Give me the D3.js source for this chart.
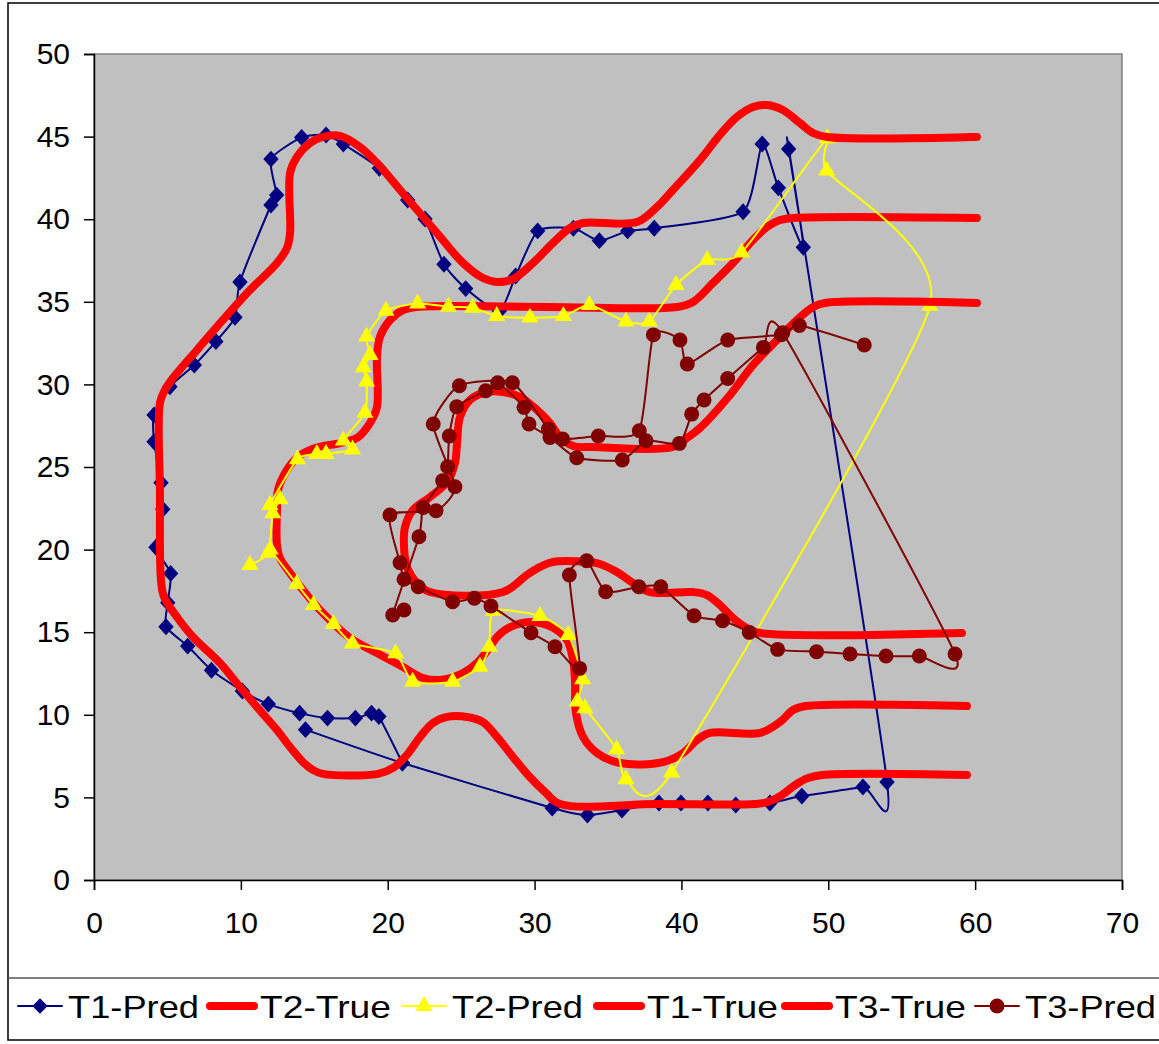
<!DOCTYPE html>
<html>
<head>
<meta charset="utf-8">
<script src="https://cdn.jsdelivr.net/npm/d3@7"></script>
<style>
  body { margin: 0; background: #fff; }
  svg { display: block; font-family: Arial, "Liberation Sans", sans-serif; }
</style>
</head>
<body>
<svg id="chart" width="1159" height="1044"></svg>
<script>
// series data, [x, y]
var t1Pred = [[14.4,9.1],[21.0,7.08],[31.2,4.36],[33.6,3.93],[35.95,4.24],[38.47,4.66],[39.97,4.66],[41.8,4.66],[43.7,4.54],[46.03,4.66],[48.2,5.08],[52.36,5.63],[54.0,5.93],[47.3,44.25],[48.3,38.3],[46.6,41.9],[45.5,44.55],[44.2,40.45],[38.15,39.45],[36.34,39.29],[34.41,38.7],[32.64,39.45],[30.21,39.29],[28.71,36.56],[27.6,34.44],[25.31,35.8],[23.83,37.27],[22.54,40.01],[21.36,41.16],[19.43,43.08],[16.98,44.55],[15.8,45.1],[14.14,44.95],[12.05,43.64],[12.44,41.46],[12.05,40.86],[9.94,36.2],[9.6,34.06],[8.3,32.6],[6.83,31.17],[5.17,29.86],[4.09,28.15],[4.09,26.53],[4.56,24.05],[4.68,22.44],[4.22,20.14],[5.22,18.56],[5.02,16.79],[4.9,15.33],[6.38,14.16],[8.0,12.7],[10.1,11.44],[11.87,10.65],[14.0,10.1],[15.9,9.8],[17.8,9.8],[18.9,10.1],[19.4,9.9],[21.0,7.08]];

var t2True = [[59.44,10.53],[48.48,10.53],[47.6,10.29],[46.71,9.56],[45.35,8.9],[41.94,8.9],[41.06,8.47],[40.11,7.69],[38.74,7.14],[35.82,7.08],[34.25,7.69],[33.3,8.66],[32.82,10.11],[32.75,12.11],[32.62,13.32],[32.21,14.53],[31.19,15.31],[29.69,15.62],[28.33,15.31],[27.44,14.71],[26.96,14.1],[26.08,13.14],[25.13,12.53],[23.56,12.11],[22.4,12.23],[21.04,12.89],[19.27,13.74],[17.43,14.65],[15.39,16.34],[14.23,17.55],[13.35,18.58],[12.66,19.49],[12.46,20.28],[12.46,22.4],[12.53,23.61],[13.14,24.82],[13.89,25.61],[15.05,26.15],[16.75,26.45],[17.91,26.76],[18.79,27.66],[19.27,28.63],[19.27,31.66],[19.47,32.87],[20.16,33.9],[21.04,34.5],[21.99,34.69],[30.8,34.69],[39.7,34.69],[40.79,34.99],[42.15,36.14],[43.51,37.35],[44.87,38.74],[45.82,39.53],[46.71,39.95],[47.6,40.07],[60.12,40.07]];

var t2Pred = [[10.62,19.07],[11.87,19.81],[12.17,22.19],[12.67,23.04],[11.98,22.7],[13.85,25.47],[15.17,25.79],[15.8,25.79],[17.6,26.06],[16.98,26.6],[18.45,28.28],[18.56,30.17],[18.34,31.03],[18.8,31.78],[18.56,32.89],[19.88,34.46],[22.04,34.9],[24.13,34.7],[25.78,34.64],[27.42,34.14],[29.69,34.04],[31.96,34.14],[33.73,34.8],[36.22,33.8],[37.81,33.8],[39.63,36.02],[41.76,37.53],[44.1,37.98],[49.93,44.9],[49.89,42.94],[56.92,34.75],[39.33,6.5],[36.22,6.1],[35.59,7.91],[33.43,10.39],[32.9,10.8],[33.27,12.15],[32.3,14.83],[30.37,15.98],[27.2,16.3],[26.92,14.12],[26.28,12.91],[24.42,12.0],[21.7,12.0],[20.54,13.72],[17.6,14.32],[16.3,15.5],[14.94,16.65],[13.8,17.92],[12.0,20.0]];

var t1True = [[59.44,6.36],[49.57,6.36],[48.62,6.17],[47.73,5.75],[46.85,5.15],[45.89,4.72],[45.01,4.6],[38.4,4.6],[31.73,4.6],[30.71,5.33],[29.55,6.36],[28.53,7.45],[27.44,8.66],[26.49,9.56],[25.4,9.87],[24.04,9.87],[23.08,9.5],[22.2,8.66],[21.31,7.57],[20.36,6.78],[19.34,6.42],[15.59,6.42],[14.91,6.66],[14.23,7.14],[13.35,8.05],[12.46,9.08],[11.1,10.47],[9.94,11.68],[8.58,13.14],[6.74,14.71],[5.65,15.92],[4.77,17.13],[4.56,18.16],[4.49,23.5],[4.49,28.87],[4.83,29.66],[5.38,30.39],[7.01,32.08],[8.78,33.9],[10.62,35.71],[12.46,37.35],[13.14,38.26],[13.35,39.16],[13.35,42.8],[13.82,43.77],[14.71,44.61],[15.59,44.98],[16.75,45.04],[18.11,44.37],[19.27,43.4],[21.31,41.28],[23.36,39.16],[25.13,37.35],[26.49,36.44],[27.44,36.2],[28.53,36.38],[29.89,37.35],[31.25,38.56],[32.41,39.47],[33.3,39.77],[36.97,39.83],[38.33,40.74],[39.42,41.77],[41.26,43.58],[42.62,45.1],[43.78,46.19],[44.87,46.79],[45.82,46.91],[46.91,46.61],[48.07,45.82],[48.96,45.22],[49.91,44.98],[60.12,44.98]];

var t3True = [[59.1,14.95],[45.35,14.95],[44.46,15.25],[43.51,15.86],[42.62,16.65],[41.74,17.25],[40.79,17.43],[37.86,17.43],[36.7,17.98],[35.61,18.64],[34.45,19.13],[33.57,19.25],[31.25,19.25],[30.37,18.95],[29.48,18.46],[27.85,17.43],[22.88,17.43],[21.99,17.98],[21.31,18.95],[21.11,20.16],[21.18,21.37],[21.72,22.4],[22.88,23.18],[24.04,24.09],[24.58,25.24],[24.72,26.45],[24.92,28.03],[25.6,29.06],[26.76,29.54],[27.85,29.54],[29.01,29.24],[30.17,28.45],[31.05,27.66],[31.73,26.82],[32.62,26.27],[33.98,26.21],[39.42,26.21],[40.38,26.76],[41.26,27.36],[43.31,29.36],[44.87,31.17],[46.51,32.69],[47.87,33.9],[48.96,34.69],[49.77,34.93],[60.12,34.93]];

var t3Pred = [[21.11,16.34],[20.34,16.04],[22.13,20.78],[22.42,22.55],[23.74,24.17],[24.08,25.02],[24.19,26.88],[24.7,28.65],[26.67,29.62],[27.49,30.1],[29.28,28.61],[29.62,27.6],[31.05,26.79],[32.87,25.56],[35.97,25.42],[37.59,26.59],[39.86,26.43],[40.7,28.2],[41.54,29.06],[43.15,30.36],[45.58,32.24],[46.9,33.13],[58.63,13.68],[56.2,13.56],[53.93,13.56],[51.48,13.68],[49.2,13.82],[46.55,13.96],[44.62,14.99],[42.8,15.69],[40.86,16.0],[38.59,17.75],[37.1,17.75],[34.84,17.45],[33.55,19.33],[32.37,18.46],[33.07,12.81],[31.39,14.12],[29.76,14.97],[27.03,16.59],[25.9,17.05],[24.42,16.84],[22.08,17.75],[21.11,18.2],[20.84,19.2],[20.15,22.1],[23.29,22.35],[24.58,23.81],[23.1,27.6],[24.88,29.92],[28.49,30.1],[30.94,27.3],[31.91,26.69],[34.34,26.88],[37.13,27.2],[38.09,33.0],[39.9,32.69],[40.4,31.23],[43.15,32.69],[46.8,33.0],[48.03,33.56],[52.45,32.38]];

var xTicks = [0, 10, 20, 30, 40, 50, 60, 70];
var yTicks = [0, 5, 10, 15, 20, 25, 30, 35, 40, 45, 50];

var series = [
  {name: "T1-Pred", data: t1Pred, color: "#000080", width: 2,  marker: "diamond"},
  {name: "T2-True", data: t2True, color: "#FF0000", width: 8,  marker: null},
  {name: "T2-Pred", data: t2Pred, color: "#FFFF00", width: 2,  marker: "triangle"},
  {name: "T1-True", data: t1True, color: "#FF0000", width: 8,  marker: null},
  {name: "T3-True", data: t3True, color: "#FF0000", width: 8,  marker: null},
  {name: "T3-Pred", data: t3Pred, color: "#800000", width: 2,  marker: "circle"}
];

var svg = d3.select("#chart");

// outer chart frame and legend box
svg.append("rect").attr("x", 8).attr("y", 3).attr("width", 1180).attr("height", 1037)
  .attr("fill", "#fff").attr("stroke", "#000").attr("stroke-width", 1.5);
svg.append("line").attr("x1", 8).attr("x2", 1159).attr("y1", 978).attr("y2", 978)
  .attr("stroke", "#555").attr("stroke-width", 1.5);

var x = d3.scaleLinear().domain([0, 70]).range([94, 1122]);
var y = d3.scaleLinear().domain([0, 50]).range([880, 54]);

svg.append("rect")
  .attr("x", x(0)).attr("y", y(50))
  .attr("width", x(70) - x(0)).attr("height", y(0) - y(50))
  .attr("fill", "#C0C0C0").attr("stroke", "#808080").attr("stroke-width", 1.5);

var yAxis = svg.append("g").attr("transform", "translate(" + x(0) + ",0)")
  .call(d3.axisLeft(y).tickValues(yTicks).tickSize(10).tickPadding(14));
var xAxis = svg.append("g").attr("transform", "translate(0," + y(0) + ")")
  .call(d3.axisBottom(x).tickValues(xTicks).tickSize(10).tickPadding(22));
[xAxis, yAxis].forEach(function(a) {
  a.selectAll("text").style("font-size", "30px").attr("fill", "#000");
  a.selectAll("line, path").attr("stroke", "#000").attr("stroke-width", 1.5);
});

function markerPath(type) {
  if (type === "diamond") return d3.symbol().type(d3.symbolDiamond2).size(150)();
  if (type === "triangle") return d3.symbol().type(d3.symbolTriangle2).size(210)();
  return d3.symbol().type(d3.symbolCircle).size(175)();
}

var plot = svg.append("g");
series.forEach(function(s) {
  // true tracks: centripetal spline, predictions: Excel-like smoothing
  var curve = s.marker ? d3.curveCardinal.tension(0.4) : d3.curveCatmullRom.alpha(0.5);
  var line = d3.line().x(function(d) { return x(d[0]); }).y(function(d) { return y(d[1]); })
    .curve(curve);
  plot.append("path").datum(s.data)
    .attr("d", line)
    .attr("fill", "none")
    .attr("stroke", s.color)
    .attr("stroke-width", s.width)
    .attr("stroke-linecap", "round")
    .attr("stroke-linejoin", "round");
  if (s.marker) {
    plot.append("g").selectAll("path")
      .data(s.data)
      .enter().append("path")
        .attr("d", markerPath(s.marker))
        .attr("transform", function(d) {
          var r = s.marker === "diamond" ? " scale(1,1.1)" : "";
          return "translate(" + x(d[0]) + "," + y(d[1]) + ")" + r;
        })
        .attr("fill", s.color);
  }
});

// legend
var legendX = [18, 210, 402, 597, 785, 975];
var legY = 1006;
series.forEach(function(s, i) {
  var g = svg.append("g").attr("transform", "translate(" + legendX[i] + "," + legY + ")");
  g.append("line").attr("x1", 0).attr("x2", 44).attr("y1", 0).attr("y2", 0)
    .attr("stroke", s.color).attr("stroke-width", s.width).attr("stroke-linecap", "round");
  if (s.marker) {
    g.append("path").attr("d", markerPath(s.marker)).attr("transform", "translate(22,0)").attr("fill", s.color);
  }
  g.append("text").attr("x", 50).attr("y", 0).attr("dy", "0.36em")
    .attr("textLength", 131).attr("lengthAdjust", "spacingAndGlyphs")
    .style("font-size", "32px").text(s.name);
});
</script>
</body>
</html>
